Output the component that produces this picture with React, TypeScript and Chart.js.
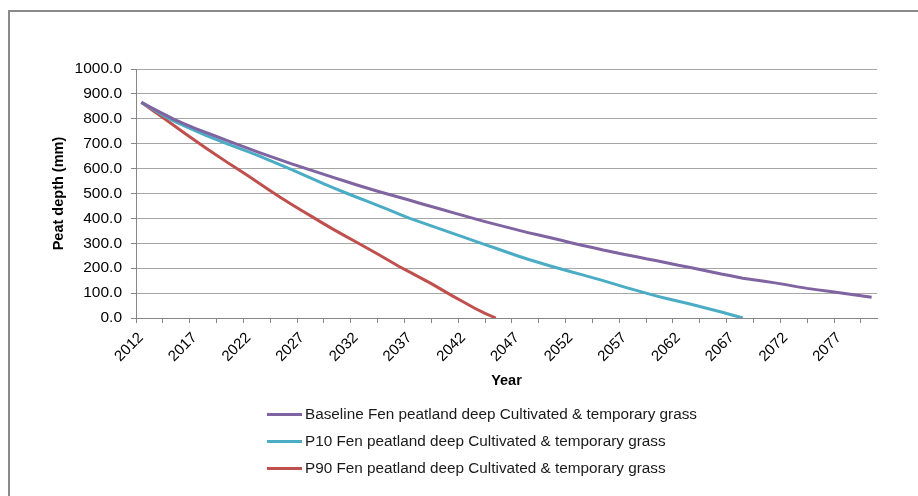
import React, { useEffect, useRef } from "react";
import { Chart, registerables } from "chart.js";

Chart.register(...registerables);

const years = [
  2012, 2013, 2014, 2015, 2016, 2017, 2018, 2019, 2020, 2021, 2022, 2023, 2024, 2025,
  2026, 2027, 2028, 2029, 2030, 2031, 2032, 2033, 2034, 2035, 2036, 2037, 2038, 2039,
  2040, 2041, 2042, 2043, 2044, 2045, 2046, 2047, 2048, 2049, 2050, 2051, 2052, 2053,
  2054, 2055, 2056, 2057, 2058, 2059, 2060, 2061, 2062, 2063, 2064, 2065, 2066, 2067,
  2068, 2069, 2070, 2071, 2072, 2073, 2074, 2075, 2076, 2077, 2078, 2079, 2080,
];

const baseline = [
  866, 843, 821, 799, 780, 762, 745, 729, 712, 696, 680, 664, 649, 634,
  619, 605, 591, 577, 563, 549, 535, 522, 509, 497, 485, 473, 460, 448,
  436, 423, 411, 399, 387, 376, 365, 354, 343, 333, 323, 313, 302, 292,
  283, 273, 264, 255, 247, 238, 230, 221, 212, 204, 195, 186, 177, 169,
  160, 154, 148, 141, 134, 126, 119, 113, 107, 101, 95, 89, 83,
];

const p10 = [
  866, 840, 815, 792, 772, 752, 733, 716, 699, 683, 667, 650, 632, 614,
  596, 577, 558, 539, 521, 503, 486, 469, 452, 435, 417, 400, 385, 370,
  355, 340, 325, 310, 295, 280, 265, 250, 236, 223, 210, 198, 186, 174,
  162, 150, 137, 124, 112, 100, 88, 77, 67, 57, 46, 35, 24, 12,
  0,
];

const p90 = [
  866, 835, 805, 774, 743, 713, 683, 654, 625, 597, 569, 540, 511, 483,
  456, 430, 404, 378, 353, 329, 305, 281, 257, 232, 207, 184, 161, 138,
  113, 88, 64, 40, 19, 0,
];

const xTickLabels = [
  "2012", "2017", "2022", "2027", "2032", "2037", "2042",
  "2047", "2052", "2057", "2062", "2067", "2072", "2077",
];

const seriesNames = [
  "Baseline Fen peatland deep Cultivated & temporary grass",
  "P10 Fen peatland deep Cultivated & temporary grass",
  "P90 Fen peatland deep Cultivated & temporary grass",
];

const seriesColors = ["#8064A2", "#4BACC6", "#C0504D"];

const FONT = "'Liberation Sans', Arial, sans-serif";

export default function App() {
  const canvasRef = useRef<HTMLCanvasElement | null>(null);

  useEffect(() => {
    const canvas = canvasRef.current;
    if (!canvas) return;
    const seriesValues = [baseline, p10, p90];
    const chart = new Chart(canvas, {
      type: "line",
      data: {
        datasets: seriesValues.map((vals, si) => ({
          label: seriesNames[si],
          data: vals.map((v, i) => ({ x: years[i], y: v })),
          borderColor: seriesColors[si],
          backgroundColor: seriesColors[si],
          borderWidth: 3,
          pointRadius: 0,
          tension: 0,
          fill: false,
        })),
      },
      options: {
        responsive: false,
        animation: false,
        layout: { padding: { left: 45, top: 69, right: 41, bottom: 100 } },
        plugins: {
          legend: { display: false },
          tooltip: { enabled: false },
        },
        scales: {
          x: {
            type: "linear",
            min: 2011.5,
            max: 2080.5,
            afterBuildTicks: (s: any) => {
              const t: any[] = [];
              for (let k = 0; k < 28; k++) t.push({ value: 2011.5 + 2.5 * k });
              s.ticks = t;
            },
            afterFit: (s: any) => {
              s.height = 78;
            },
            grid: {
              display: true,
              drawOnChartArea: false,
              drawTicks: true,
              tickLength: 5,
              color: "#868686",
              tickColor: "#868686",
            },
            border: { display: true, color: "#868686", width: 1 },
            ticks: {
              autoSkip: false,
              maxRotation: 45,
              minRotation: 45,
              labelOffset: 5,
              padding: 6,
              color: "#000",
              font: { family: FONT, size: 15 },
              callback: (_v: any, i: number) => (i % 2 === 0 ? xTickLabels[i / 2] : ""),
            },
            title: {
              display: true,
              text: "Year",
              color: "#000",
              font: { family: FONT, size: 14.5, weight: "bold" },
              padding: { top: 0, bottom: 6.6 },
            },
          },
          y: {
            min: 0,
            max: 1000,
            afterFit: (s: any) => {
              s.width = 91;
            },
            grid: {
              color: "#a6a6a6",
              tickColor: "#868686",
              tickLength: 5,
            },
            border: { display: true, color: "#868686", width: 1 },
            ticks: {
              stepSize: 100,
              padding: 9,
              color: "#000",
              font: { family: FONT, size: 15.5 },
              callback: (v: any) => Number(v).toFixed(1),
            },
            title: {
              display: true,
              text: "Peat depth (mm)",
              color: "#000",
              font: { family: FONT, size: 14.5, weight: "bold" },
              padding: { top: 5.6, bottom: 0 },
            },
          },
        },
      },
    } as any);
    return () => chart.destroy();
  }, []);

  const legendTops = [414, 441, 468];

  return (
    <div
      style={{
        position: "fixed",
        left: 0,
        top: 0,
        width: 918,
        height: 496,
        overflow: "hidden",
        background: "#fff",
      }}
    >
      <div
        style={{
          position: "absolute",
          left: 8,
          top: 10,
          width: 1000,
          height: 600,
          border: "2px solid #8a8a8a",
          boxSizing: "border-box",
        }}
      />
      <canvas
        ref={canvasRef}
        width={918}
        height={496}
        style={{ position: "absolute", left: 0, top: 0, width: 918, height: 496 }}
      />
      {seriesNames.map((name, i) => (
        <div
          key={name}
          style={{
            position: "absolute",
            left: 267,
            top: legendTops[i] - 10,
            height: 20,
            display: "flex",
            alignItems: "center",
            fontFamily: FONT,
            fontSize: 15.3,
            color: "#1a1a1a",
            whiteSpace: "nowrap",
          }}
        >
          <span
            style={{
              display: "inline-block",
              width: 35,
              height: 3,
              background: seriesColors[i],
              marginRight: 3,
            }}
          />
          <span>{name}</span>
        </div>
      ))}
    </div>
  );
}
